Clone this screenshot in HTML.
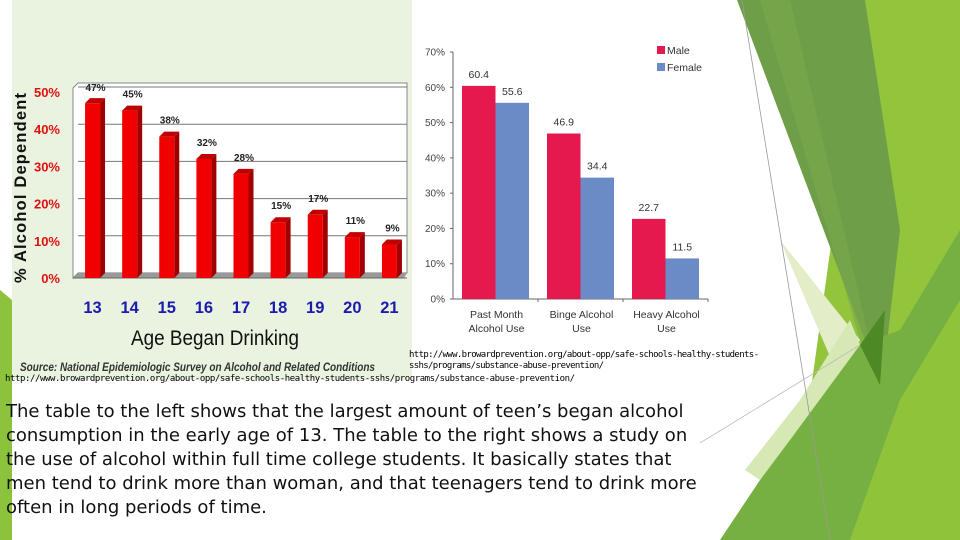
<!DOCTYPE html>
<html><head><meta charset="utf-8"><style>
body{margin:0;width:960px;height:540px;overflow:hidden;background:#fff;font-family:"Liberation Sans",sans-serif;position:relative}
svg{position:absolute;left:0;top:0}
.body-text{position:absolute;left:6px;top:400px;width:740px;font-family:"DejaVu Sans",sans-serif;font-size:18px;line-height:24px;color:#111;white-space:nowrap}
</style></head><body>
<svg width="960" height="540">
<g>
<polygon points="0,290 12,300 12,540 0,540" fill="#8dc33c"/>
<polygon points="865,0 960,0 960,540 790,540" fill="#92c43c"/>
<polygon points="737,0 865,0 900,230 882,385" fill="#6e9e48"/>
<polygon points="760,0 790,0 880,385 860,340" fill="#7aa84e" opacity="0.6"/>
<polygon points="780,240 860,340 840,380" fill="#e3eec9"/>
<polygon points="720,540 800,420 850,330 860,345 900,330 960,230 960,540" fill="#76b043"/>
<polygon points="745,470 800,400 850,320 860,345 790,440 760,480" fill="#d6e8b4"/>
<polygon points="860,345 885,310 880,385" fill="#4d8a25"/>
<polygon points="850,540 900,400 960,300 960,540" fill="#8fc33a"/>
<line x1="742" y1="0" x2="830" y2="540" stroke="#999" stroke-width="0.8"/>
<line x1="700" y1="443" x2="860" y2="345" stroke="#bbb" stroke-width="0.8"/>
</g>
<rect x="12" y="0" width="400" height="380" fill="#e9f3df"/>
<g id="left"></g>
<g id="right"></g>
<text x="20" y="371" font-size="11.5" font-weight="bold" font-style="italic" fill="#333" textLength="355" lengthAdjust="spacingAndGlyphs">Source: National Epidemiologic Survey on Alcohol and Related Conditions</text>
<text x="5" y="381" font-size="9" font-family="DejaVu Sans Mono,monospace" fill="#000" textLength="570">http://www.browardprevention.org/about-opp/safe-schools-healthy-students-sshs/programs/substance-abuse-prevention/</text>
<text x="409" y="357" font-size="9" font-family="DejaVu Sans Mono,monospace" fill="#000" textLength="350">http://www.browardprevention.org/about-opp/safe-schools-healthy-students-</text>
<text x="409" y="368" font-size="9" font-family="DejaVu Sans Mono,monospace" fill="#000" textLength="195">sshs/programs/substance-abuse-prevention/</text>
</svg>
<div class="body-text">The table to the left shows that the largest amount of teen’s began alcohol<br>consumption in the early age of 13. The table to the right shows a study on<br>the use of alcohol within full time college students. It basically states that<br>men tend to drink more than woman, and that teenagers tend to drink more<br>often in long periods of time.</div>
<script>
const ages=["13","14","15","16","17","18","19","20","21"];
const dependent=[47,45,38,32,28,15,17,11,9];
const leftTicks=[0,10,20,30,40,50];
const groups=[["Past Month","Alcohol Use"],["Binge Alcohol","Use"],["Heavy Alcohol","Use"]];
const male=[60.4,46.9,22.7];
const female=[55.6,34.4,11.5];
const rightTicks=[0,10,20,30,40,50,60,70];
const NS="http://www.w3.org/2000/svg";
function mk(p,t,a,txt){const e=document.createElementNS(NS,t);for(const k in a)e.setAttribute(k,a[k]);if(txt!==undefined)e.textContent=txt;p.appendChild(e);return e;}
const L=document.getElementById('left');
const lx0=73,lx1=407,ly0=278,ly50=92;
const ly=v=>ly0-(ly0-ly50)*v/50;
const lstep=(lx1-lx0)/ages.length;
mk(L,'polygon',{points:`${lx0},${ly(50)-4} ${lx0+5},${ly(50)-9} ${lx1},${ly(50)-9} ${lx1},${ly0-5} ${lx0+5},${ly0-5} ${lx0},${ly0}`,fill:'#fff',stroke:'#888'});
leftTicks.forEach(t=>{
 const g=mk(L,'line',{x1:lx0+5,x2:lx1,y1:ly(t)-5,y2:ly(t)-5,stroke:'#777','stroke-width':1});
 
 const tx=mk(L,'text',{x:60,y:ly(t)+5,'text-anchor':'end','font-size':13,'font-weight':'bold',fill:'#e01010'},t+'%');
 
});
mk(L,'polygon',{points:`${lx0},${ly0} ${lx0+5},${ly0-5} ${lx1},${ly0-5} ${lx1-3},${ly0}`,fill:'#999'});
mk(L,'line',{x1:lx0,x2:lx1,y1:ly0,y2:ly0,stroke:'#666'});
ages.forEach((a,i)=>{
 const cx=lx0+lstep*(i+0.5)+1,w=15,x=cx-w/2,y=ly(dependent[i]);
 const g=mk(L,'g',{});
 
 mk(g,'polygon',{points:`${x+w},${y} ${x+w+5},${y-5} ${x+w+5},${ly0-5} ${x+w},${ly0}`,fill:'#a00000'});
 mk(g,'polygon',{points:`${x},${y} ${x+5},${y-5} ${x+w+5},${y-5} ${x+w},${y}`,fill:'#c00000'});
 mk(g,'rect',{x:x,y:y,width:w,height:ly0-y,fill:'#f00000'});
 const lbl=mk(L,'text',{x:cx+3,y:Math.max(y-13,91),'text-anchor':'middle','font-size':10,'font-weight':'bold',fill:'#222'},dependent[i]+'%');
 
 const cl=mk(L,'text',{x:cx,y:313,'text-anchor':'middle','font-size':16.5,'font-weight':'bold',fill:'#1b1bb0'},a);
 
});
const yt=mk(L,'text',{x:0,y:0,transform:'translate(26,188) rotate(-90)','text-anchor':'middle','font-size':16.5,'font-weight':'bold',fill:'#111',textLength:190},'% Alcohol Dependent');

const xt=mk(L,'text',{x:131,y:345,'font-size':21,fill:'#111',textLength:168,lengthAdjust:'spacingAndGlyphs'},'Age Began Drinking');

const R=document.getElementById('right');
const rx0=453,rx1=708,ry0=299,ry70=52;
const ry=v=>ry0-(ry0-ry70)*v/70;
const gw=(rx1-rx0)/groups.length;
mk(R,'line',{x1:rx0,x2:rx0,y1:ry70,y2:ry0,stroke:'#666'});
mk(R,'line',{x1:rx0,x2:rx1,y1:ry0,y2:ry0,stroke:'#666'});
rightTicks.forEach(t=>{
 mk(R,'line',{x1:rx0-3,x2:rx0,y1:ry(t),y2:ry(t),stroke:'#666'});
 const tx=mk(R,'text',{x:445,y:ry(t)+3.5,'text-anchor':'end','font-size':10,fill:'#444'},t+'%');
 
});
groups.forEach((g,i)=>{
 const gx=rx0+gw*i, bw=33.5, mx=gx+9;
 mk(R,'line',{x1:gx+gw,x2:gx+gw,y1:ry0,y2:ry0+3,stroke:'#666'});
 const mb=mk(R,'rect',{x:mx,y:ry(male[i]),width:bw,height:ry0-ry(male[i]),fill:'#e6194e'});
 
 const fb=mk(R,'rect',{x:mx+bw,y:ry(female[i]),width:bw,height:ry0-ry(female[i]),fill:'#6a8bc6'});
 
 const ml=mk(R,'text',{x:mx+bw/2,y:ry(male[i])-8,'text-anchor':'middle','font-size':10.5,fill:'#333'},male[i].toFixed(1));
 
 const fl=mk(R,'text',{x:mx+bw*1.5,y:ry(female[i])-8,'text-anchor':'middle','font-size':10.5,fill:'#333'},female[i].toFixed(1));
 
 g.forEach((ln,k)=>{const c=mk(R,'text',{x:gx+gw/2+1,y:318+k*14,'text-anchor':'middle','font-size':10.5,fill:'#333'},ln);
  });
});
const lg=mk(R,'g',{});

mk(lg,'rect',{x:657,y:46,width:8,height:8,fill:'#e6194e'});
mk(lg,'text',{x:667,y:54,'font-size':10.5,fill:'#333'},'Male');
mk(lg,'rect',{x:657,y:63,width:8,height:8,fill:'#6a8bc6'});
mk(lg,'text',{x:667,y:71,'font-size':10.5,fill:'#333'},'Female');
</script>
</body></html>
